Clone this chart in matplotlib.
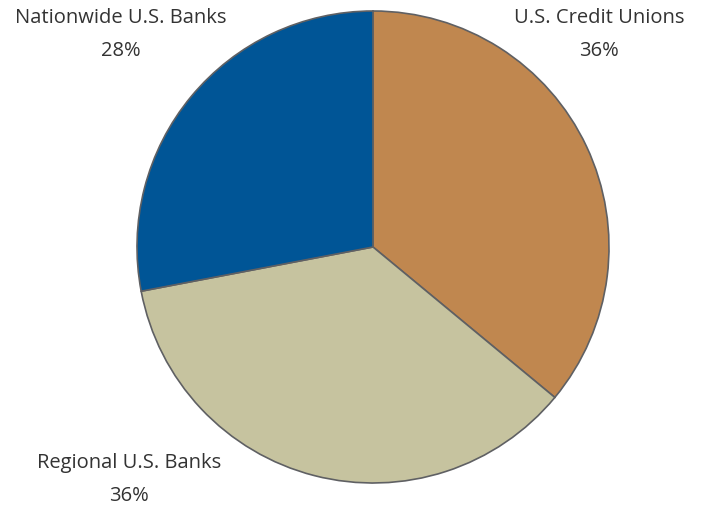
import matplotlib
matplotlib.use("Agg")
import matplotlib.pyplot as plt

categories = ["U.S. Credit Unions", "Regional U.S. Banks", "Nationwide U.S. Banks"]
values = [36, 36, 28]
colors = ["#C0874F", "#C6C39F", "#005596"]

W, H = 702, 508
fig = plt.figure(figsize=(W / 100, H / 100), dpi=100)
cx, cy, r = 373, 247, 236
ax = fig.add_axes([(cx - r) / W, (H - cy - r) / H, 2 * r / W, 2 * r / H])
ax.pie(values, colors=colors, startangle=90, counterclock=False, radius=1,
       wedgeprops=dict(edgecolor="#5f6063", linewidth=1.2))
ax.set_xlim(-1, 1)
ax.set_ylim(-1, 1)
ax.set_aspect("equal")
ax.axis("off")

label_pos = {
    "U.S. Credit Unions": (599, 18),
    "Regional U.S. Banks": (129, 463),
    "Nationwide U.S. Banks": (121, 18),
}
for cat, val in zip(categories, values):
    x, y = label_pos[cat]
    fig.text(x / W, 1 - y / H, cat, ha="center", va="center", fontsize=14.5,
             family="Open Sans", color="#333333")
    fig.text(x / W, 1 - (y + 33) / H, f"{val}%", ha="center", va="center",
             fontsize=14.5, family="Open Sans", color="#333333")

fig.savefig("out.png", dpi=100)
